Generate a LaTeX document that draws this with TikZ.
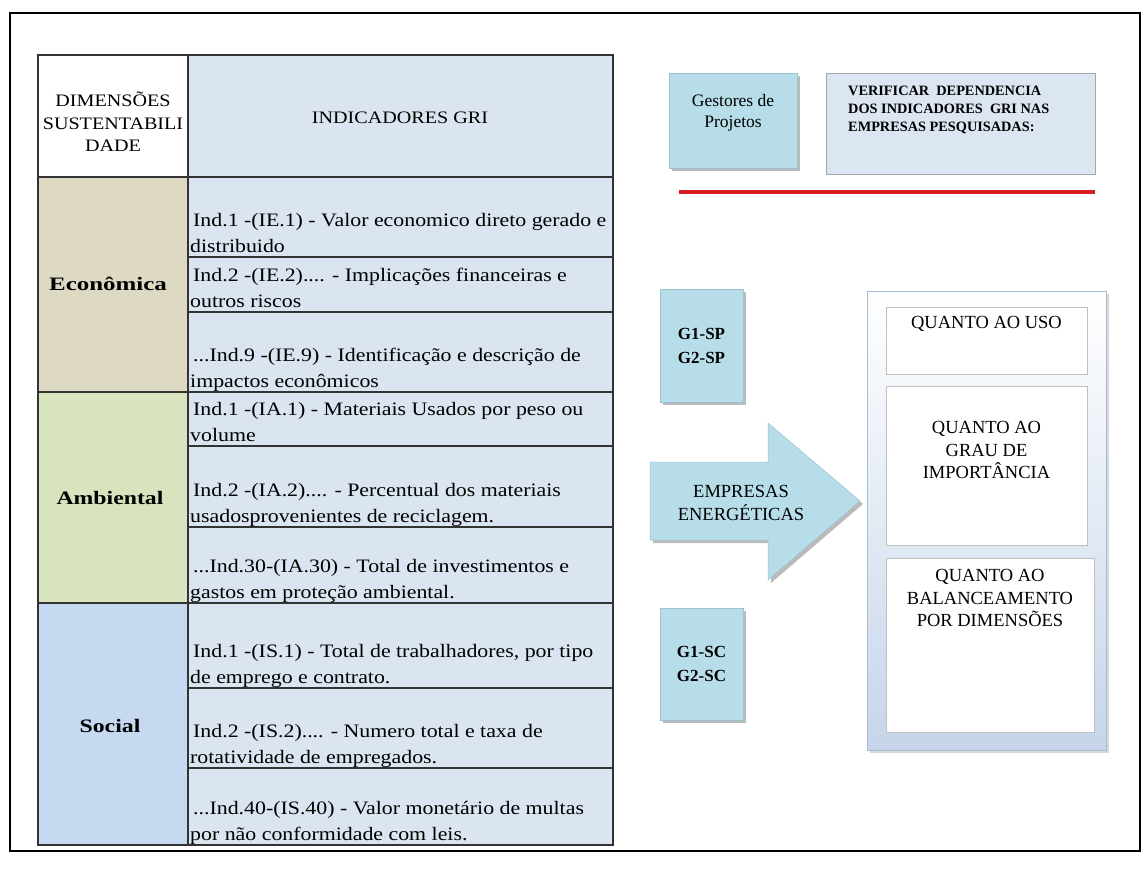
\documentclass[tikz,border=0pt]{standalone}
\usepackage{fontspec}
\setmainfont{Liberation Serif}
\newfontfamily\tblfont[FakeStretch=1.15]{Liberation Serif}
\newfontfamily\lblfont[FakeStretch=1.25]{Liberation Serif}
\usetikzlibrary{shadows}
\definecolor{cellblue}{HTML}{DBE5F1}
\definecolor{econ}{HTML}{DDD9C3}
\definecolor{amb}{HTML}{D7E4BD}
\definecolor{soc}{HTML}{C6D9F1}
\definecolor{boxblue}{HTML}{B7DDE8}
\definecolor{boxedge}{HTML}{9CC3D2}
\definecolor{verif}{HTML}{DCE6F2}
\definecolor{redline}{HTML}{D41E1E}
\definecolor{contedge}{HTML}{A9BCD6}
\definecolor{contbot}{HTML}{C6D5EA}
\newcommand{\rowtext}[4]{%
  \node[celltext] (#1a) at (193,#2-31) {#3};
  \node[celltext] (#1b) at (190,#2-5) {#4};}
\begin{document}
\begin{tikzpicture}[x=1pt,y=-1pt,
  tline/.style={draw=black!80,line width=1.1pt},
  celltext/.style={anchor=base west,inner sep=0pt,font=\tblfont\fontsize{19}{24}\selectfont},
  hdrtext/.style={align=center,inner sep=0pt,font=\tblfont\fontsize{17.5}{22.5}\selectfont},
  dimlabel/.style={inner sep=0pt,font=\lblfont\bfseries\fontsize{19}{24}\selectfont},
  bluebox/.style={fill=boxblue,draw=boxedge,line width=0.5pt,
    drop shadow={shadow xshift=3pt,shadow yshift=-3pt,fill=black!45,opacity=0.6}},
  rtext/.style={align=center,inner sep=0pt,font=\fontsize{18.5}{22.5}\selectfont},
  btext/.style={align=center,inner sep=0pt,font=\bfseries\fontsize{17}{24}\selectfont},
  innerbox/.style={draw=black!25,fill=white,line width=0.6pt},
]
\useasboundingbox (0,0) rectangle (1147,868);
\fill[white] (0,0) rectangle (1147,868);
% outer frame
\draw[line width=1.2pt] (10,13) rectangle (1140,851);
% table fills
\fill[white] (38,55) rectangle (188,177);
\fill[cellblue] (188,55) rectangle (613,845);
\fill[econ] (38,177) rectangle (188,392);
\fill[amb] (38,392) rectangle (188,603);
\fill[soc] (38,603) rectangle (188,845);
% table lines
\draw[tline] (38,55) rectangle (613,845);
\draw[tline] (188,55) -- (188,845);
\foreach \yy in {177,392,603} \draw[tline] (38,\yy) -- (613,\yy);
\foreach \yy in {257,312,446,527,688,768} \draw[tline] (188,\yy) -- (613,\yy);
% header
\node[hdrtext] (dimhdr) at (113,122) {DIMENSÕES\\SUSTENTABILI\\DADE};
\node[hdrtext,anchor=base] (grihdr) at (400,123) {INDICADORES GRI};
% dimension labels
\node[dimlabel] (econlbl) at (108,284) {\scalebox{1.05}[1]{Econômica}};
\node[dimlabel] (amblbl) at (110,498) {Ambiental};
\node[dimlabel] (soclbl) at (110,726) {Social};
% indicator rows
\rowtext{IEone}{257}{Ind.1 -(IE.1) - Valor economico direto gerado e}{distribuido}
\rowtext{IEtwo}{312}{Ind.2 -(IE.2).... - Implicações financeiras e}{outros riscos}
\rowtext{IEnine}{392}{...Ind.9 -(IE.9) - Identificação e descrição de}{impactos econômicos}
\rowtext{IAone}{446}{Ind.1 -(IA.1) - Materiais Usados por peso ou}{volume}
\rowtext{IAtwo}{527}{Ind.2 -(IA.2).... - Percentual dos materiais}{usadosprovenientes de reciclagem.}
\rowtext{IAthirty}{603}{...Ind.30-(IA.30) - Total de investimentos e}{gastos em proteção ambiental.}
\rowtext{ISone}{688}{Ind.1 -(IS.1) - Total de trabalhadores, por tipo}{de emprego e contrato.}
\rowtext{IStwo}{768}{Ind.2 -(IS.2).... - Numero total e taxa de}{rotatividade de empregados.}
\rowtext{ISforty}{845}{...Ind.40-(IS.40) - Valor monetário de multas}{por não conformidade com leis.}
% right side top
\node[bluebox,minimum width=128pt,minimum height=95pt,inner sep=0pt] (gestores) at (733,120.5) {};
\node[rtext,font=\fontsize{17.5}{21}\selectfont] (gestorestxt) at (733,113) {Gestores de\\Projetos};
\node[fill=verif,draw=black!35,line width=0.6pt,minimum width=269pt,minimum height=101pt,inner sep=0pt] (verifbox) at (960.5,123.5) {};
\node[anchor=north west,align=left,inner sep=0pt,font=\bfseries\fontsize{14.3}{18}\selectfont] (veriftxt) at (848,86) {VERIFICAR\ \ DEPENDENCIA\\DOS INDICADORES\ \ GRI NAS\\EMPRESAS PESQUISADAS:};
\draw[line width=4pt,redline] (679,192) -- (1095,192);
% G boxes
\node[bluebox,btext,minimum width=83pt,minimum height=113pt] (gsp) at (701.5,345.5) {G1-SP\\G2-SP};
\node[bluebox,btext,minimum width=83pt,minimum height=112pt] (gsc) at (701.5,664) {G1-SC\\G2-SC};
% arrow
\path[fill=boxblue,draw=boxedge,line width=0.5pt,
  drop shadow={shadow xshift=3pt,shadow yshift=-3pt,fill=black!45,opacity=0.6}]
  (650,462) -- (768,462) -- (768,423) -- (860,501) -- (768,580) -- (768,540) -- (650,540) -- cycle;
\node[rtext] (arrowtxt) at (741,503) {EMPRESAS\\ENERGÉTICAS};
% container
\node[draw=contedge,line width=0.8pt,top color=white,bottom color=contbot,
  minimum width=239pt,minimum height=459pt,inner sep=0pt,
  drop shadow={shadow xshift=3pt,shadow yshift=-3pt,fill=black!30,opacity=0.5}] (cont) at (986.5,520.5) {};
\node[innerbox,minimum width=201pt,minimum height=67pt,inner sep=0pt] (uso) at (986.5,340.5) {};
\node[innerbox,minimum width=201pt,minimum height=159pt,inner sep=0pt] (grau) at (986.5,465.5) {};
\node[innerbox,minimum width=208pt,minimum height=174pt,inner sep=0pt] (bal) at (990,645) {};
\node[rtext] (usotxt) at (986.5,324) {QUANTO AO USO};
\node[rtext] (grautxt) at (986.5,450) {QUANTO AO\\GRAU DE\\IMPORTÂNCIA};
\node[rtext] (baltxt) at (990,598) {QUANTO AO\\BALANCEAMENTO\\POR DIMENSÕES};
\end{tikzpicture}
\end{document}
